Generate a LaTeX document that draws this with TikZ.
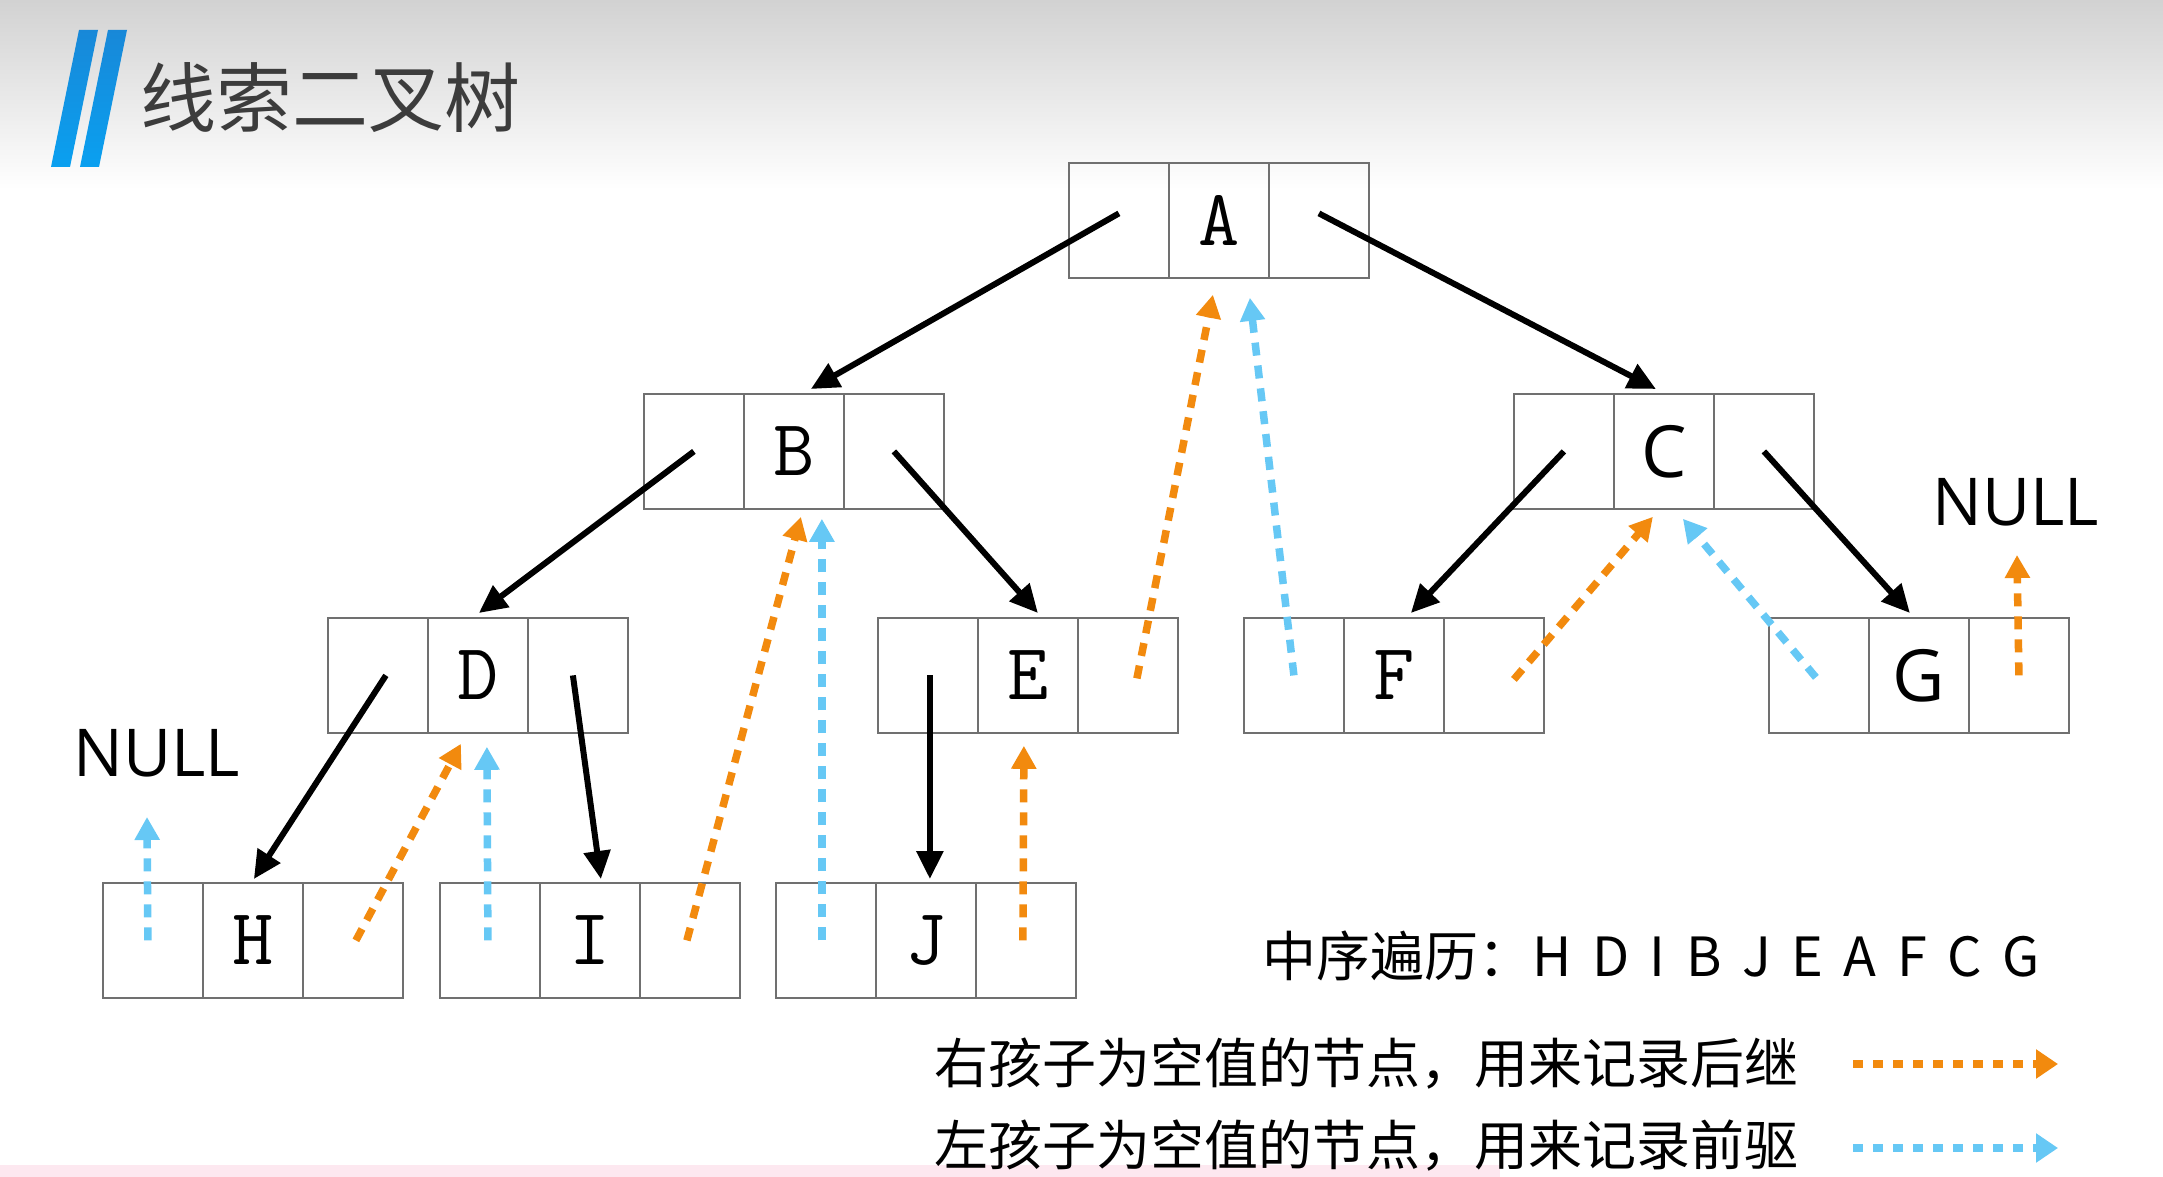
\documentclass[tikz,border=0pt]{standalone}
\usepackage{fontspec}
\newfontfamily\cjk{Noto Sans CJK SC}
\newfontfamily\sansL{Open Sans}
\usetikzlibrary{arrows.meta}
\definecolor{boxgray}{RGB}{112,112,112}
\definecolor{orng}{RGB}{242,138,14}
\definecolor{skyb}{RGB}{102,200,245}
\definecolor{bartop}{RGB}{24,136,216}
\definecolor{barbot}{RGB}{10,160,240}
\definecolor{titlegray}{RGB}{60,60,60}
\definecolor{bgtop}{RGB}{210,210,210}
\definecolor{pinkband}{RGB}{253,232,240}
\newcommand\gp{\hspace{0.38em}}
\newcommand\treenode[5]{%
  \node[cell] (#1l) at (#2,#3) {};
  \node[cell,#4] (#1) at (#2+100,#3) {#5};
  \node[cell] (#1r) at (#2+200,#3) {};
}
\tikzset{
  cell/.style={draw=boxgray, line width=1.8pt, minimum width=100pt, minimum height=115pt, inner sep=0pt, anchor=north west},
  monoletter/.style={font=\ttfamily\fontsize{80pt}{80pt}\selectfont},
  sansletter/.style={font=\sansL\fontsize{72pt}{72pt}\selectfont},
  edge/.style={line width=6pt, -{Triangle[length=28pt,width=26pt]}},
  succ/.style={draw=orng, line width=7.5pt, dash pattern=on 13pt off 10pt, -{Triangle[length=23pt,width=24pt]}},
  pred/.style={draw=skyb, line width=7.5pt, dash pattern=on 13pt off 10pt, -{Triangle[length=23pt,width=24pt]}},
  legsucc/.style={draw=orng, line width=7.5pt, dash pattern=on 10pt off 10pt, -{Triangle[length=22pt,width=28pt]}},
  legpred/.style={draw=skyb, line width=7.5pt, dash pattern=on 10pt off 10pt, -{Triangle[length=22pt,width=28pt]}},
  nulltext/.style={font=\sansL\fontsize{66pt}{66pt}\selectfont, inner sep=0pt},
  cjktext/.style={font=\cjk\fontsize{54pt}{54pt}\selectfont, inner sep=0pt, anchor=west},
}
\begin{document}
\begin{tikzpicture}[x=1pt,y=-1pt]
\useasboundingbox (0,0) rectangle (2163,1177);
\fill[white] (0,0) rectangle (2163,1177);
\shade[top color=bgtop, bottom color=white] (0,0) rectangle (2163,190);
\fill[pinkband] (0,1165) rectangle (1500,1177);
% title
\shade[top color=bartop, bottom color=barbot] (51,167) -- (70,167) -- (98,30) -- (79,30) -- cycle;
\shade[top color=bartop, bottom color=barbot] (80,167) -- (99,167) -- (127,30) -- (108,30) -- cycle;
\node[anchor=west, inner sep=0pt, font=\cjk\fontsize{76pt}{76pt}\selectfont, text=titlegray] (title) at (140,98) {线索二叉树};
% tree nodes
\treenode{A}{1068}{162}{monoletter}{A}
\treenode{B}{643}{393}{monoletter}{B}
\treenode{C}{1513}{393}{sansletter}{C}
\treenode{D}{327}{617}{monoletter}{D}
\treenode{E}{877}{617}{monoletter}{E}
\treenode{F}{1243}{617}{monoletter}{F}
\treenode{G}{1768}{617}{sansletter}{G}
\treenode{H}{102}{882}{monoletter}{H}
\treenode{I}{439}{882}{monoletter}{I}
\treenode{J}{775}{882}{monoletter}{J}
% NULL labels
\node[nulltext] (nullL) at (157,753) {NULL};
\node[nulltext] (nullR) at (2016,502) {NULL};
\coordinate (nullLa) at (147,817);
\coordinate (nullRa) at (2017,555);
% tree edges
\draw[edge] ([yshift=7pt]Al.center) -- ([xshift=17pt,yshift=4pt]B.north);
\draw[edge] ([yshift=7pt]Ar.center) -- ([xshift=-8pt,yshift=4pt]C.north);
\draw[edge] (Bl.center) -- ([xshift=1pt,yshift=4pt]D.north);
\draw[edge] (Br.center) -- ([xshift=10pt,yshift=4pt]E.north);
\draw[edge] (Cl.center) -- ([xshift=17pt,yshift=4pt]F.north);
\draw[edge] (Cr.center) -- ([xshift=-9pt,yshift=4pt]G.north);
\draw[edge] ([xshift=8pt]Dl.center) -- ([xshift=1pt,yshift=3pt]H.north);
\draw[edge] ([xshift=-5pt]Dr.center) -- ([xshift=11pt,yshift=3pt]I.north);
\draw[edge] ([xshift=2pt]El.center) -- ([xshift=4pt,yshift=3pt]J.north);
% successor threads
\draw[succ] ([xshift=3pt]Hr.center) -- ([xshift=-17pt,yshift=-10pt]D.south);
\draw[succ] ([xshift=-3pt]Ir.center) -- ([xshift=7pt,yshift=-7pt]B.south);
\draw[succ] ([xshift=-3pt]Jr.center) -- ([xshift=-4pt,yshift=-12pt]E.south);
\draw[succ] ([xshift=9pt,yshift=-3pt]Er.center) -- ([xshift=-6pt,yshift=-16pt]A.south);
\draw[succ] ([xshift=20pt,yshift=-4pt]Fr.center) -- ([xshift=-11pt,yshift=-7pt]C.south);
\draw[succ] (Gr.center) -- (nullRa);
% predecessor threads
\draw[pred] ([xshift=-5pt]Hl.center) -- (nullLa);
\draw[pred] ([xshift=-2pt]Il.center) -- ([xshift=9pt,yshift=-13pt]D.south);
\draw[pred] ([xshift=-4pt]Jl.center) -- ([xshift=28pt,yshift=-9pt]B.south);
\draw[pred] (Fl.center) -- ([xshift=31pt,yshift=-19pt]A.south);
\draw[pred] ([xshift=-3pt,yshift=-2pt]Gl.center) -- ([xshift=19pt,yshift=-9pt]C.south);
% inorder text and legend
\node[cjktext] (inorder) at (1262,956) {中序遍历：H\gp D\gp I\gp B\gp J\gp E\gp A\gp F\gp C\gp G};
\node[cjktext] (legS) at (934,1064) {右孩子为空值的节点，用来记录后继};
\node[cjktext] (legP) at (934,1146) {左孩子为空值的节点，用来记录前驱};
\coordinate (legSa) at (1853,1064);
\coordinate (legSb) at (2058,1064);
\coordinate (legPa) at (1853,1148);
\coordinate (legPb) at (2058,1148);
\draw[legsucc] (legSa) -- (legSb);
\draw[legpred] (legPa) -- (legPb);
\end{tikzpicture}
\end{document}
